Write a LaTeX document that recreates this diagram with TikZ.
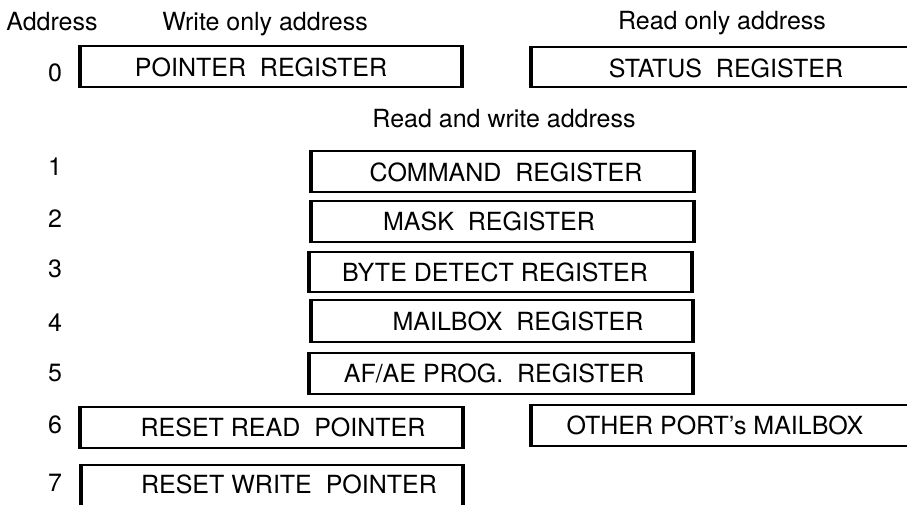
\documentclass[tikz,border=0pt]{standalone}
\usepackage{fontspec}
\setmainfont{TeX Gyre Heros}
\begin{document}
\begin{tikzpicture}[x=1pt,y=-1pt]
\tikzset{
  regbox/.style={draw, line width=2.4pt, rectangle, inner sep=0pt},
  boxside/.style={line width=3.6pt},
  lbl/.style={inner sep=0pt, text height=18pt, text depth=0pt, font=\fontsize{25}{30}\selectfont},
}
\useasboundingbox (0,0) rectangle (907,504);
% headers
\node[lbl] (hAddr) at (52,21) {Address};
\node[lbl] (hWrite) at (265,21) {Write only address};
\node[lbl] (hRead) at (722,20) {Read only address};
\node[lbl] (hRW) at (504,118) {Read and write address};
% boxes
\node[regbox, minimum width=380pt, minimum height=41pt] (b0) at (271,66.5) {};
\node[regbox, minimum width=377pt, minimum height=40pt] (bS) at (720.5,67) {};
\node[regbox, minimum width=381pt, minimum height=41pt] (b1) at (502.5,171.5) {};
\node[regbox, minimum width=381pt, minimum height=41pt] (b2) at (502.5,221.5) {};
\node[regbox, minimum width=381pt, minimum height=40pt] (b3) at (500.5,272) {};
\node[regbox, minimum width=380pt, minimum height=42pt] (b4) at (502,321) {};
\node[regbox, minimum width=382pt, minimum height=41pt] (b5) at (501,373.5) {};
\node[regbox, minimum width=381pt, minimum height=41pt] (b6) at (271.5,427.5) {};
\node[regbox, minimum width=377pt, minimum height=41pt] (bO) at (720.5,425.5) {};
\node[regbox, minimum width=380pt, minimum height=42pt] (b7) at (272,486) {};
\foreach \b in {b0,bS,b1,b2,b3,b4,b5,b6,bO,b7}{
  \draw[boxside] (\b.north west) -- (\b.south west);
  \draw[boxside] (\b.north east) -- (\b.south east);
}
% box texts
\node[lbl] (t0) at (261,67) {POINTER\ \ REGISTER};
\node[lbl] (tS) at (726,68) {STATUS\ \ REGISTER};
\node[lbl] (t1) at (506,172) {COMMAND\ \ REGISTER};
\node[lbl] (t2) at (489,221) {MASK\ \ REGISTER};
\node[lbl] (t3) at (495,272) {BYTE DETECT REGISTER};
\node[lbl] (t4) at (518,321) {MAILBOX\ \ REGISTER};
\node[lbl] (t5) at (494,373) {AF/AE PROG.\ \ REGISTER};
\node[lbl] (t6) at (283,427) {RESET READ\ \ POINTER};
\node[lbl] (tO) at (715,425) {OTHER PORT's MAILBOX};
\node[lbl] (t7) at (289,484) {RESET WRITE\ \ POINTER};
% address numbers
\node[lbl] (n0) at (55,72) {0};
\node[lbl] (n1) at (55,166) {1};
\node[lbl] (n2) at (55,218) {2};
\node[lbl] (n3) at (55,268) {3};
\node[lbl] (n4) at (55,322) {4};
\node[lbl] (n5) at (55,372) {5};
\node[lbl] (n6) at (55,424) {6};
\node[lbl] (n7) at (55,482) {7};
\end{tikzpicture}
\end{document}
